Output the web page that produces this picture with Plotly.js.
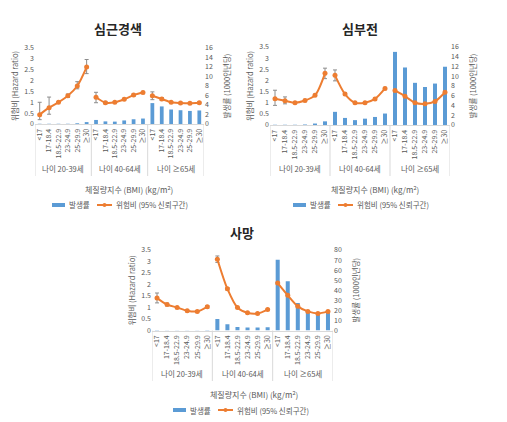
<!DOCTYPE html>
<html>
<head>
<meta charset="utf-8">
<script src="https://cdn.plot.ly/plotly-3.0.1.min.js"></script>
<style>html,body{margin:0;padding:0;background:#fff;}#chart{width:507px;height:422px;}</style>
</head>
<body>
<div id="chart"></div>
<script>
// ---- data ----
const groups = ['나이 20-39세', '나이 40-64세', '나이 ≥65세'];
const bmiLabels = ['<17', '17-18.4', '18.5-22.9', '23-24.9', '25-29.9', '≥30'];
const chartTitles = ['심근경색', '심부전', '사망'];
const barName = '발생률';
const lineName = '위험비 (95% 신뢰구간)';
const xTitle = '체질량지수 (BMI) (kg/m<sup>2</sup>)';
const hrAxisTitle = '위험비 (Hazard ratio)';
const incAxisTitle = '발생률 (1000인년당)';

// 심근경색 (myocardial infarction)
const miIncidence = [0.05, 0.05, 0.05, 0.05, 0.15, 0.4, 0.85, 0.55, 0.5, 0.75, 1.0, 1.15, 4.4, 3.7, 3.05, 2.9, 2.75, 2.85];
const miHR = [0.43, 0.75, 1.0, 1.3, 1.75, 2.62, 1.23, 0.98, 1.0, 1.14, 1.33, 1.45, 1.3, 1.15, 1.0, 0.97, 0.96, 0.98];
const miLow = [0.2, 0.45, 1.0, 1.22, 1.62, 2.32, 0.98, 0.93, 1.0, 1.1, 1.28, 1.4, 1.12, 1.08, 1.0, 0.94, 0.93, 0.95];
const miHigh = [1.0, 1.24, 1.0, 1.38, 1.95, 2.97, 1.46, 1.04, 1.0, 1.18, 1.38, 1.5, 1.48, 1.22, 1.0, 1.0, 0.99, 1.01];

// 심부전 (heart failure)
const hfIncidence = [0.05, 0.05, 0.05, 0.1, 0.3, 0.75, 2.7, 1.45, 1.0, 1.3, 1.65, 2.35, 15.0, 11.8, 8.65, 7.8, 8.5, 11.95];
const hfHR = [1.18, 1.09, 1.0, 1.1, 1.33, 2.32, 2.23, 1.39, 1.0, 1.0, 1.17, 1.64, 1.55, 1.29, 1.0, 0.95, 1.06, 1.47];
const hfLow = [0.88, 0.95, 1.0, 1.05, 1.28, 2.08, 1.98, 1.33, 1.0, 0.97, 1.13, 1.59, 1.5, 1.25, 1.0, 0.93, 1.03, 1.43];
const hfHigh = [1.56, 1.26, 1.0, 1.15, 1.38, 2.55, 2.47, 1.45, 1.0, 1.03, 1.21, 1.69, 1.6, 1.33, 1.0, 0.97, 1.09, 1.51];

// 사망 (death)
const dIncidence = [0.4, 0.3, 0.3, 0.3, 0.3, 0.4, 11.4, 6.2, 3.6, 2.9, 2.9, 3.3, 70.2, 49, 27.4, 19, 17.6, 19];
const dHR = [1.41, 1.13, 1.0, 0.86, 0.83, 1.03, 3.1, 1.81, 1.0, 0.77, 0.74, 0.91, 2.06, 1.53, 1.05, 0.83, 0.74, 0.83];
const dLow = [1.2, 1.07, 1.0, 0.83, 0.8, 0.98, 2.96, 1.76, 1.0, 0.76, 0.73, 0.89, 2.03, 1.51, 1.04, 0.82, 0.73, 0.82];
const dHigh = [1.63, 1.19, 1.0, 0.89, 0.86, 1.08, 3.24, 1.86, 1.0, 0.78, 0.75, 0.93, 2.09, 1.55, 1.06, 0.84, 0.75, 0.84];

const hrMax = 3.5, hrStep = 0.5;
const incMax = [16, 16, 80];
const incStep = [2, 2, 10];

// ---- style / layout (pixels in the 507x422 page) ----
const FONT = 'Noto Sans CJK KR, Noto Sans, sans-serif';
const BLUE = '#5B9BD5';
const ORANGE = '#ED7D31';
const GRAY = '#595959';
const LINEGRAY = '#d9d9d9';
const W = 507, H = 422;
// plot boxes [left, right, top, bottom]
const boxes = [[35, 204, 48, 124], [270, 450, 47, 125], [152, 333, 250, 330.5]];
const titlePos = [[118, 28], [360, 28], [242, 232]];
const xTitlePos = [[129, 189], [375, 189], [254, 394]];
const groupLabelY = [168, 168, 373];
const dividerBottom = [176, 176, 381];
const legendPos = [[52, 205], [293, 205], [173, 410]];

const datasets = [
  [miIncidence, miHR, miLow, miHigh],
  [hfIncidence, hfHR, hfLow, hfHigh],
  [dIncidence, dHR, dLow, dHigh]
];

const nPer = bmiLabels.length;
const innerLabels = [];
groups.forEach(() => bmiLabels.forEach(b => innerLabels.push(b)));
const xIdx = innerLabels.map((_, i) => i);

const traces = [];
const shapes = [];
const annotations = [];
const layout = {
  width: W, height: H, autosize: false,
  margin: {l: 0, r: 0, t: 0, b: 0},
  paper_bgcolor: '#fff', plot_bgcolor: 'rgba(0,0,0,0)',
  font: {family: FONT, size: 7, color: GRAY},
  bargap: 0.6,
  showlegend: false
};

const px = v => v / W;
const py = v => 1 - v / H;

datasets.forEach((ds, k) => {
  const [inc, hr, lo, hi] = ds;
  const xa = k === 0 ? 'x' : 'x' + (k + 1);
  const yInc = k === 0 ? 'y' : 'y' + (2 * k + 1);
  const yHr = 'y' + (2 * k + 2);
  traces.push({
    type: 'bar', x: xIdx, y: inc, xaxis: xa, yaxis: yInc,
    name: barName, marker: {color: BLUE}, hoverinfo: 'skip'
  });
  groups.forEach((g, gi) => {
    const s = gi * nPer, e = s + nPer;
    const yy = hr.slice(s, e);
    traces.push({
      type: 'scatter', mode: 'lines+markers',
      x: xIdx.slice(s, e), y: yy,
      xaxis: xa, yaxis: yHr, name: lineName,
      line: {color: ORANGE, width: 2, shape: 'spline', smoothing: 0.8},
      marker: {color: ORANGE, size: 5, symbol: 'circle'},
      error_y: {
        type: 'data', symmetric: false,
        array: hi.slice(s, e).map((v, i) => Math.max(0, v - yy[i])),
        arrayminus: lo.slice(s, e).map((v, i) => Math.max(0, yy[i] - v)),
        color: '#8c8c8c', thickness: 1, width: 2
      },
      hoverinfo: 'skip'
    });
    // group label under the category labels
    annotations.push({
      text: g, xref: xa, yref: 'paper', x: (s + e - 1) / 2, y: py(groupLabelY[k]),
      xanchor: 'center', yanchor: 'middle', showarrow: false,
      font: {size: 7.5, color: GRAY, family: FONT}
    });
  });
  // group dividers
  const [l, r, t, b] = boxes[k];
  for (let gi = 0; gi <= groups.length; gi++) {
    const xv = gi * nPer - 0.5;
    shapes.push({
      type: 'line', xref: xa, yref: 'paper', x0: xv, x1: xv,
      y0: py(b), y1: py(dividerBottom[k]), line: {color: LINEGRAY, width: 1}
    });
  }
  const xKey = k === 0 ? 'xaxis' : 'xaxis' + (k + 1);
  const yIncKey = k === 0 ? 'yaxis' : 'yaxis' + (2 * k + 1);
  const yHrKey = 'yaxis' + (2 * k + 2);
  layout[xKey] = {
    domain: [px(l), px(r)], anchor: yInc, range: [-0.5, xIdx.length - 0.5],
    tickmode: 'array', tickvals: xIdx, ticktext: innerLabels,
    showline: true, linecolor: LINEGRAY, linewidth: 1,
    showgrid: false, zeroline: false, ticks: '',
    tickangle: -90, ticklabelstandoff: 1,
    tickfont: {size: 7, color: GRAY, family: FONT},
    automargin: false
  };
  layout[yIncKey] = {
    domain: [py(b), py(t)], anchor: xa, side: 'right',
    range: [0, incMax[k]], dtick: incStep[k], tick0: 0,
    showgrid: false, zeroline: false, showline: false, ticks: '',
    tickfont: {size: 7, color: GRAY, family: FONT},
    title: {text: incAxisTitle, font: {size: 7.5, color: GRAY, family: FONT}, standoff: 12},
    automargin: false
  };
  layout[yHrKey] = {
    overlaying: yInc, anchor: xa, side: 'left',
    range: [0, hrMax], dtick: hrStep, tick0: 0,
    showgrid: false, zeroline: false, showline: false, ticks: '',
    tickfont: {size: 7, color: GRAY, family: FONT},
    title: {text: hrAxisTitle, font: {size: 7.5, color: GRAY, family: FONT}, standoff: 4},
    automargin: false
  };
  // chart title and x-axis title
  annotations.push({
    text: '<b>' + chartTitles[k] + '</b>', xref: 'paper', yref: 'paper',
    x: px(titlePos[k][0]), y: py(titlePos[k][1]), xanchor: 'center', yanchor: 'middle',
    showarrow: false, font: {size: 13, color: '#262626', family: FONT}
  });
  annotations.push({
    text: xTitle, xref: 'paper', yref: 'paper',
    x: px(xTitlePos[k][0]), y: py(xTitlePos[k][1]), xanchor: 'center', yanchor: 'middle',
    showarrow: false, font: {size: 8, color: GRAY, family: FONT}
  });
  // legend (bar swatch + line-with-marker swatch)
  const [lx, ly] = legendPos[k];
  shapes.push({type: 'rect', xref: 'paper', yref: 'paper',
    x0: px(lx), x1: px(lx + 13), y0: py(ly + 2), y1: py(ly - 2),
    fillcolor: BLUE, line: {width: 0}});
  annotations.push({text: barName, xref: 'paper', yref: 'paper',
    x: px(lx + 15), y: py(ly), xanchor: 'left', yanchor: 'middle', showarrow: false,
    font: {size: 7.5, color: GRAY, family: FONT}});
  shapes.push({type: 'line', xref: 'paper', yref: 'paper',
    x0: px(lx + 45), x1: px(lx + 60), y0: py(ly), y1: py(ly),
    line: {color: ORANGE, width: 2}});
  shapes.push({type: 'circle', xref: 'paper', yref: 'paper',
    x0: px(lx + 50.5), x1: px(lx + 54.5), y0: py(ly + 2), y1: py(ly - 2),
    fillcolor: ORANGE, line: {width: 0}});
  annotations.push({text: lineName, xref: 'paper', yref: 'paper',
    x: px(lx + 62), y: py(ly), xanchor: 'left', yanchor: 'middle', showarrow: false,
    font: {size: 7.5, color: GRAY, family: FONT}});
});

layout.shapes = shapes;
layout.annotations = annotations;

Plotly.newPlot('chart', traces, layout, {staticPlot: true, displayModeBar: false});
</script>
</body>
</html>
